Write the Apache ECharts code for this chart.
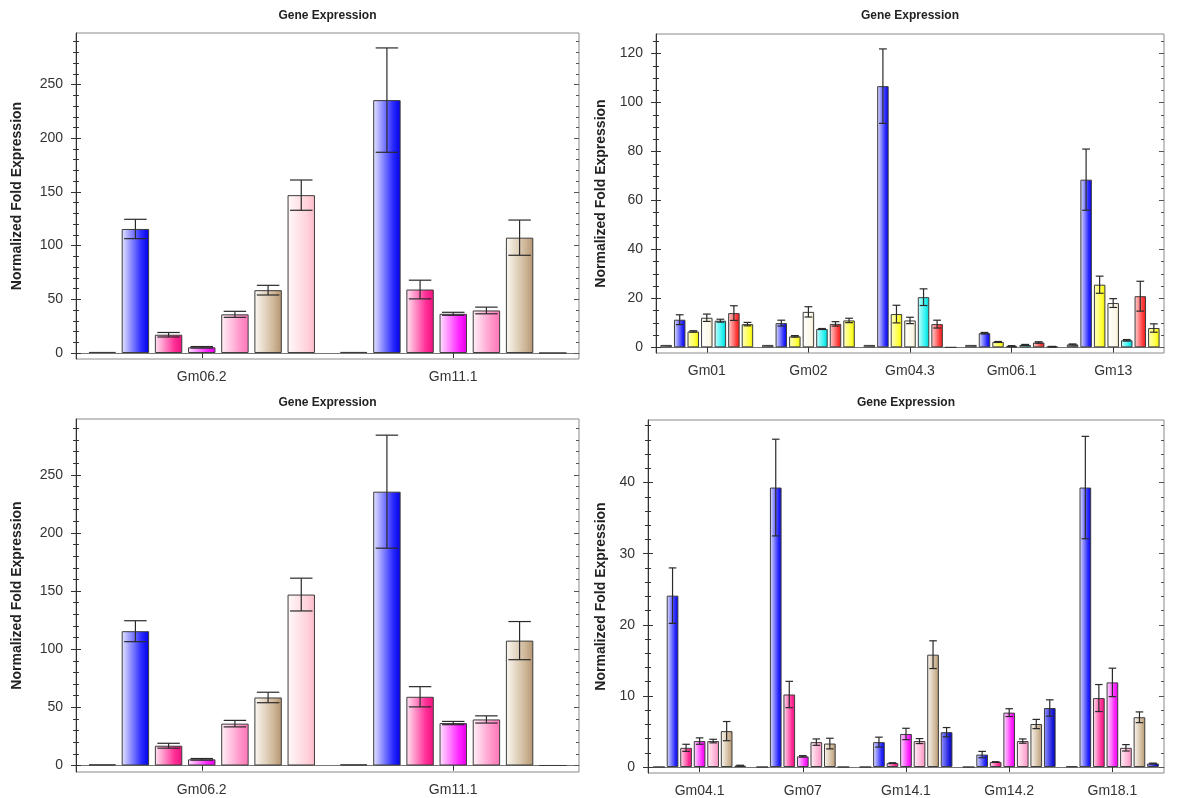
<!DOCTYPE html>
<html>
<head>
<meta charset="utf-8">
<script src="https://cdn.jsdelivr.net/npm/echarts@6/dist/echarts.min.js"></script>
<style>
html,body{margin:0;padding:0;background:#fff}
#c{width:1200px;height:798px}
</style>
</head>
<body>
<div id="c"></div>
<script>
// ---------- DATA ----------
const chartTitle = 'Gene Expression';
const yName = 'Normalized Fold Expression';

// Left panels (top-left and bottom-left show the same data)
const leftCategories = ['Gm06.2', 'Gm11.1'];
const leftYTicks = [0, 50, 100, 150, 200, 250];
const leftValues_Gm06_2 = [1, 115.5, 17, 5.3, 36, 58.5, 147];
const leftErrors_Gm06_2 = [0, 9, 2.1, 0.7, 2.8, 4.5, 14.1];
const leftValues_Gm11_1 = [1, 235.5, 59.1, 36.5, 39.6, 107.4, 0];
const leftErrors_Gm11_1 = [0, 48.6, 8.7, 1.4, 3.1, 16.4, 0];

// Top-right panel
const trCategories = ['Gm01', 'Gm02', 'Gm04.3', 'Gm06.1', 'Gm13'];
const trYTicks = [0, 20, 40, 60, 80, 100, 120];
const trValues_Gm01 = [1, 11.3, 6.5, 12.1, 10.9, 14, 9.5];
const trErrors_Gm01 = [0, 2, 0.3, 1.5, 0.6, 3, 0.7];
const trValues_Gm02 = [1, 9.9, 4.5, 14.5, 7.5, 9.6, 11];
const trErrors_Gm02 = [0, 1.2, 0.3, 2.1, 0.2, 0.9, 0.9];
const trValues_Gm04_3 = [1, 106.7, 13.6, 11, 20.5, 9.5, 0];
const trErrors_Gm04_3 = [0, 15.2, 3.6, 1.3, 3.4, 1.6, 0];
const trValues_Gm06_1 = [1, 5.8, 2.2, 0.5, 1, 2, 0.3];
const trErrors_Gm06_1 = [0, 0.3, 0.2, 0.2, 0.2, 0.3, 0.1];
const trValues_Gm13 = [1.2, 68.5, 25.6, 18.1, 2.9, 20.9, 7.9];
const trErrors_Gm13 = [0.2, 12.5, 3.5, 1.8, 0.3, 6.1, 1.7];

// Bottom-right panel
const brCategories = ['Gm04.1', 'Gm07', 'Gm14.1', 'Gm14.2', 'Gm18.1'];
const brYTicks = [0, 10, 20, 30, 40];
const brValues_Gm04_1 = [0, 24.1, 2.7, 3.65, 3.65, 5.05, 0.2];
const brErrors_Gm04_1 = [0, 3.9, 0.5, 0.45, 0.25, 1.35, 0.05];
const brValues_Gm07 = [0, 39.3, 10.2, 1.5, 3.5, 3.3, 0];
const brErrors_Gm07 = [0, 6.8, 1.85, 0.1, 0.45, 0.75, 0];
const brValues_Gm14_1 = [0, 3.5, 0.55, 4.65, 3.65, 15.8, 4.9];
const brErrors_Gm14_1 = [0, 0.7, 0.05, 0.8, 0.35, 1.95, 0.65];
const brValues_Gm14_2 = [0, 1.75, 0.7, 7.65, 3.65, 6.05, 8.3];
const brErrors_Gm14_2 = [0, 0.45, 0.05, 0.55, 0.3, 0.65, 1.15];
const brValues_Gm18_1 = [0.1, 39.3, 9.7, 11.9, 2.7, 7.0, 0.5];
const brErrors_Gm18_1 = [0, 7.2, 1.9, 2.0, 0.45, 0.75, 0.05];

// ---------- STYLE ----------
const FONT = "'Liberation Sans', Arial, sans-serif";
const C = {
  dark:  ['#555555', '#222222', '#111111'],
  gray:  ['#cfcfcf', '#747474', '#525252'],
  blue:  ['#e6e6ff', '#2a2aff', '#0000e6'],
  hot:   ['#ffe6f2', '#ff2d96', '#ee127e'],
  mag:   ['#ffe6ff', '#ff22ff', '#e600e6'],
  pink:  ['#fff2f8', '#ff92c8', '#ff74b8'],
  pink2: ['#fff2f8', '#ffacd2', '#ff92c4'],
  tan:   ['#fcf9f3', '#cdb596', '#b39470'],
  lpink: ['#fffafa', '#ffd2da', '#ffbcc8'],
  yel:   ['#ffffcc', '#ffff33', '#e6e600'],
  cream: ['#ffffff', '#fbf8e6', '#ebe4c6'],
  cyan:  ['#ccffff', '#22f0f0', '#00cccc'],
  red:   ['#ffd8d8', '#ff3b3b', '#e61818'],
  dblue: ['#9a9aff', '#1c1ce0', '#0000a6']
};
const leftSlots = [C.dark, C.blue, C.hot, C.mag, C.pink, C.tan, C.lpink];
const trSlots = [C.gray, C.blue, C.yel, C.cream, C.cyan, C.red, C.yel];
const brSlots = [C.dark, C.blue, C.hot, C.mag, C.pink2, C.tan, C.dblue];

function grad(c) {
  return new echarts.graphic.LinearGradient(0, 0, 1, 0, [
    { offset: 0, color: c[0] }, { offset: 0.72, color: c[1] }, { offset: 1, color: c[2] }
  ]);
}
function minorTicks(majors, step, max) {
  const out = [];
  for (let i = 1; i * step < max; i++) {
    const v = +(i * step).toFixed(6);
    if (majors.indexOf(v) < 0) out.push(v);
  }
  return out;
}

const option = {
  animation: false,
  backgroundColor: '#ffffff',
  textStyle: { fontFamily: FONT },
  title: [], grid: [], xAxis: [], yAxis: [], series: []
};

const Y_PER = 6;
function addPanel(g, p) {
  const cx = p.left + p.width / 2;
  option.title.push({
    text: chartTitle, left: cx, top: p.titleY - 7, textAlign: 'center', padding: 0,
    textStyle: { fontSize: 12, fontWeight: 'bold', color: '#222', fontFamily: FONT }
  });
  option.grid.push({
    left: p.left, top: p.top, width: p.width, height: p.height,
    show: true, borderColor: '#8a8a8a', borderWidth: 1, backgroundColor: '#fff'
  });
  option.xAxis.push({
    type: 'category', gridIndex: g, data: p.cats, position: 'bottom',
    axisLine: { show: true, lineStyle: { color: '#777', width: 1 } },
    axisTick: { show: true, alignWithLabel: true, length: 5, lineStyle: { color: '#333' } },
    axisLabel: { color: '#333', fontSize: 14, margin: 11, fontFamily: FONT },
    splitLine: { show: false }
  });
  option.xAxis.push({
    type: 'category', gridIndex: g, data: p.cats, position: 'top',
    axisLine: { show: false },
    axisTick: { show: true, inside: true, alignWithLabel: true, length: 5, lineStyle: { color: '#333' } },
    axisLabel: { show: false }, splitLine: { show: false }
  });
  const minors = minorTicks(p.ticks, p.minorStep, p.yMax);
  function yAx(extra) {
    return Object.assign({
      type: 'value', gridIndex: g, min: p.yMin, max: p.yMax,
      splitLine: { show: false }, axisLine: { show: false }, axisLabel: { show: false }
    }, extra);
  }
  // main left axis: line, major ticks (outside), labels, name
  option.yAxis.push(yAx({
    position: 'left',
    name: yName, nameLocation: 'middle', nameGap: p.nameGap, nameRotate: 90,
    nameTextStyle: { fontSize: 14, fontWeight: 'bold', color: '#222', fontFamily: FONT },
    axisLine: { show: true, lineStyle: { color: '#333', width: 1 } },
    axisTick: { show: true, length: 5, customValues: p.ticks, lineStyle: { color: '#333' } },
    axisLabel: { show: true, customValues: p.ticks, color: '#333', fontSize: 14, margin: 13, fontFamily: FONT }
  }));
  // left minor ticks outside
  option.yAxis.push(yAx({ position: 'left',
    axisTick: { show: true, length: 3, customValues: minors, lineStyle: { color: '#333' } } }));
  // left major / minor inside
  option.yAxis.push(yAx({ position: 'left',
    axisTick: { show: true, inside: true, length: 5, customValues: p.ticks, lineStyle: { color: '#333' } } }));
  option.yAxis.push(yAx({ position: 'left',
    axisTick: { show: true, inside: true, length: 3, customValues: minors, lineStyle: { color: '#333' } } }));
  // right major / minor inside
  option.yAxis.push(yAx({ position: 'right',
    axisTick: { show: true, inside: true, length: 5, customValues: p.ticks, lineStyle: { color: '#555' } } }));
  option.yAxis.push(yAx({ position: 'right',
    axisTick: { show: true, inside: true, length: 3, customValues: minors, lineStyle: { color: '#555' } } }));

  const nSlots = p.slots.length;
  for (let s = 0; s < nSlots; s++) {
    option.series.push({
      type: 'bar', xAxisIndex: 2 * g, yAxisIndex: Y_PER * g,
      barWidth: (p.barW * 100) + '%', barGap: (p.barGap * 100) + '%',
      data: p.rows.map(r => r[s]),
      itemStyle: { color: grad(p.slots[s]), borderColor: '#3c3c3c', borderWidth: 1 },
      silent: true
    });
  }
  const errData = [];
  p.rows.forEach((r, c) => r.forEach((v, s) => {
    if (p.errs[c][s] > 0) errData.push([c, s, v, p.errs[c][s]]);
  }));
  option.series.push({
    type: 'custom', xAxisIndex: 2 * g, yAxisIndex: Y_PER * g, z: 10, silent: true,
    encode: { x: 0, y: 2 },
    data: errData,
    renderItem: function (params, api) {
      const c = api.value(0), s = api.value(1), v = api.value(2), e = api.value(3);
      const catW = api.size([1, 0])[0];
      const bw = catW * p.barW, pitch = bw * (1 + p.barGap);
      const x = api.coord([c, v])[0] + (s - (nSlots - 1) / 2) * pitch;
      const yHi = api.coord([c, v + e])[1], yLo = api.coord([c, v - e])[1];
      const cap = bw * p.cap / 2;
      const st = { stroke: '#2a2a2a', lineWidth: 1.2 };
      return {
        type: 'group', children: [
          { type: 'line', shape: { x1: x, y1: yHi, x2: x, y2: yLo }, style: st },
          { type: 'line', shape: { x1: x - cap, y1: yHi, x2: x + cap, y2: yHi }, style: st },
          { type: 'line', shape: { x1: x - cap, y1: yLo, x2: x + cap, y2: yLo }, style: st }
        ]
      };
    }
  });
}

addPanel(0, {
  left: 76, top: 33, width: 503, height: 326, titleY: 17, cats: leftCategories,
  rows: [leftValues_Gm06_2, leftValues_Gm11_1], errs: [leftErrors_Gm06_2, leftErrors_Gm11_1],
  slots: leftSlots, yMin: -5.6, yMax: 298, ticks: leftYTicks, minorStep: 10,
  barW: 0.109, barGap: 0.21, cap: 0.82, nameGap: 52
});
addPanel(1, {
  left: 656, top: 34, width: 508, height: 319, titleY: 17, cats: trCategories,
  rows: [trValues_Gm01, trValues_Gm02, trValues_Gm04_3, trValues_Gm06_1, trValues_Gm13],
  errs: [trErrors_Gm01, trErrors_Gm02, trErrors_Gm04_3, trErrors_Gm06_1, trErrors_Gm13],
  slots: trSlots, yMin: -2.3, yMax: 128, ticks: trYTicks, minorStep: 5,
  barW: 0.113, barGap: 0.18, cap: 0.68, nameGap: 48
});
addPanel(2, {
  left: 76, top: 419, width: 503, height: 353, titleY: 404, cats: leftCategories,
  rows: [leftValues_Gm06_2, leftValues_Gm11_1], errs: [leftErrors_Gm06_2, leftErrors_Gm11_1],
  slots: leftSlots, yMin: -5.6, yMax: 298, ticks: leftYTicks, minorStep: 10,
  barW: 0.109, barGap: 0.21, cap: 0.82, nameGap: 52
});
addPanel(3, {
  left: 648, top: 420, width: 516, height: 353, titleY: 404, cats: brCategories,
  rows: [brValues_Gm04_1, brValues_Gm07, brValues_Gm14_1, brValues_Gm14_2, brValues_Gm18_1],
  errs: [brErrors_Gm04_1, brErrors_Gm07, brErrors_Gm14_1, brErrors_Gm14_2, brErrors_Gm18_1],
  slots: brSlots, yMin: -0.84, yMax: 48.8, ticks: brYTicks, minorStep: 2,
  barW: 0.113, barGap: 0.16, cap: 0.65, nameGap: 40
});

const chart = echarts.init(document.getElementById('c'), null, { renderer: 'canvas' });
chart.setOption(option);
</script>
</body>
</html>
